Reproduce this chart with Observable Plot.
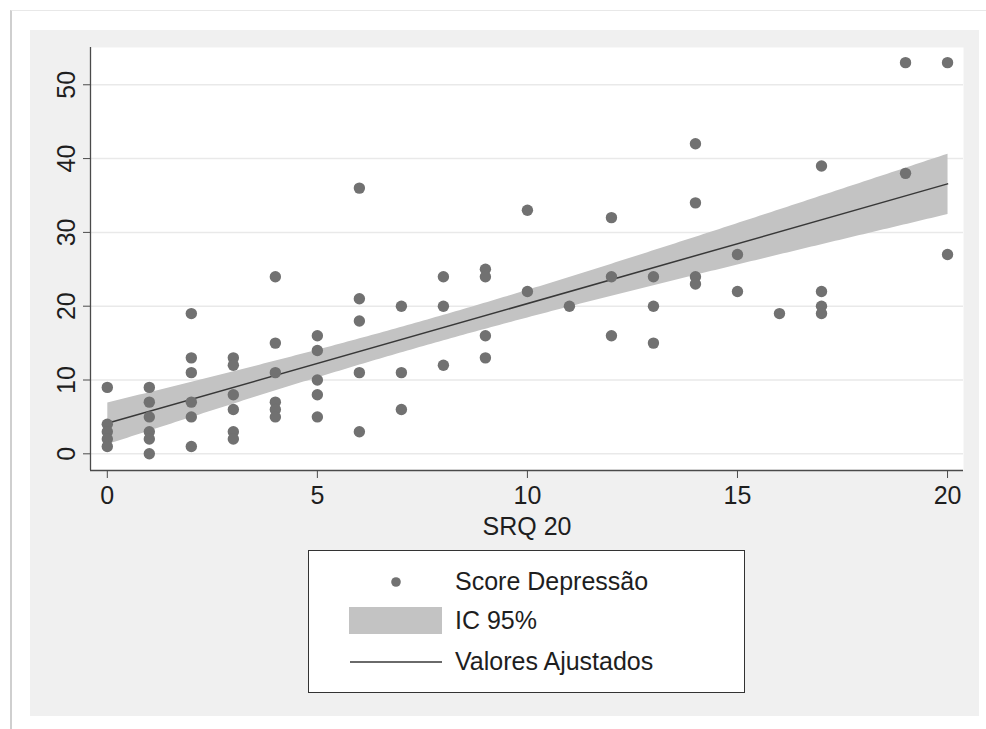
<!DOCTYPE html>
<html>
<head>
<meta charset="utf-8">
<script src="https://cdn.jsdelivr.net/npm/d3@7"></script>
<script src="https://cdn.jsdelivr.net/npm/@observablehq/plot@0.6"></script>
<style>
  html, body { margin: 0; padding: 0; background: #ffffff; }
  #page { position: relative; width: 986px; height: 729px; overflow: hidden; font-family: "Liberation Sans", Arial, sans-serif; }
  #outer { position: absolute; left: 10px; top: 10px; width: 976px; height: 719px; border-left: 2px solid #cfcfcf; border-top: 1px solid #e8e8e8; box-sizing: border-box; }
  #bg { position: absolute; left: 30px; top: 30px; width: 949px; height: 686px; background: #f0f0f0; }
  #chart { position: absolute; left: 0; top: 0; }
  #legend { position: absolute; left: 308px; top: 550px; width: 437px; height: 143px; box-sizing: border-box; border: 1px solid #333; background: #fff; }
  .lab { position: absolute; left: 146px; font-size: 25px; color: #1e1e1e; line-height: 30px; top: 0; white-space: nowrap; }
</style>
</head>
<body>
<div id="page">
  <div id="outer"></div>
  <div id="bg"></div>
  <div id="chart"></div>
  <div id="legend"></div>
</div>
<script>
// SRQ 20 score (x) and depression score (y), one entry per observation
const srq = [
  0,0,0,0,0,
  1,1,1,1,1,1,
  2,2,2,2,2,2,
  3,3,3,3,3,3,
  4,4,4,4,4,4,
  5,5,5,5,5,
  6,6,6,6,6,
  7,7,7,
  8,8,8,
  9,9,9,9,
  10,10,
  11,
  12,12,12,
  13,13,13,
  14,14,14,14,
  15,15,
  16,
  17,17,17,17,
  19,19,
  20,20
];
const depressao = [
  9,4,3,2,1,
  9,7,5,3,2,0,
  19,13,11,7,5,1,
  13,12,8,6,3,2,
  24,15,11,7,6,5,
  16,14,10,8,5,
  36,21,18,11,3,
  20,11,6,
  24,20,12,
  25,24,16,13,
  33,22,
  20,
  32,24,16,
  24,20,15,
  42,34,24,23,
  27,22,
  19,
  39,22,20,19,
  53,38,
  53,27
];
const xTicks = [0, 5, 10, 15, 20];
const yTicks = [0, 10, 20, 30, 40, 50];
const xDomain = [-0.4, 20.38];
const yDomain = [-2.26, 55.05];
const legendLabels = ["Score Depressão", "IC 95%", "Valores Ajustados"];

const data = srq.map((x, i) => ({srq: x, dep: depressao[i]}));

const dotColor = "#717171";
const bandColor = "#c3c3c3";
const lineColor = "#383838";
const axisColor = "#4a4a4a";

const chart = Plot.plot({
  width: 986,
  height: 540,
  marginLeft: 90,
  marginRight: 23,
  marginTop: 47,
  marginBottom: 70,
  style: {background: "transparent", fontFamily: "'Liberation Sans', Arial, sans-serif", fontSize: "25px", color: "#1e1e1e"},
  x: {domain: xDomain},
  y: {domain: yDomain},
  marks: [
    Plot.frame({fill: "white", stroke: null}),
    Plot.gridY(yTicks, {stroke: "#e9e9e9", strokeOpacity: 1, strokeWidth: 1.5}),
    Plot.linearRegressionY(data, {x: "srq", y: "dep", ci: 0.95, fill: bandColor, fillOpacity: 1, stroke: lineColor, strokeWidth: 1.5}),
    Plot.dot(data, {x: "srq", y: "dep", r: 5.7, fill: dotColor, stroke: null}),
    Plot.ruleX([xDomain[0]], {stroke: axisColor, strokeWidth: 1.3}),
    Plot.ruleY([yDomain[0]], {stroke: axisColor, strokeWidth: 1.3}),
    Plot.axisX(xTicks, {tickSize: 8, tickPadding: 8, stroke: axisColor, fill: "#1e1e1e", label: "SRQ 20", labelAnchor: "center", labelOffset: 64, labelArrow: "none"}),
    Plot.axisY(yTicks, {tickSize: 7, tickPadding: 9, tickRotate: -90, stroke: axisColor, fill: "#1e1e1e", label: null})
  ]
});
document.getElementById("chart").appendChild(chart);

// Legend
const legend = document.getElementById("legend");
const ns = "http://www.w3.org/2000/svg";
const sw = document.createElementNS(ns, "svg");
sw.setAttribute("width", 435);
sw.setAttribute("height", 141);
sw.style.position = "absolute";
sw.style.left = "0";
sw.style.top = "0";
const c = document.createElementNS(ns, "circle");
c.setAttribute("cx", 87); c.setAttribute("cy", 31); c.setAttribute("r", 4.8); c.setAttribute("fill", dotColor);
sw.appendChild(c);
const r = document.createElementNS(ns, "rect");
r.setAttribute("x", 40); r.setAttribute("y", 56); r.setAttribute("width", 93); r.setAttribute("height", 27); r.setAttribute("fill", bandColor);
sw.appendChild(r);
const l = document.createElementNS(ns, "line");
l.setAttribute("x1", 41); l.setAttribute("x2", 133); l.setAttribute("y1", 111); l.setAttribute("y2", 111);
l.setAttribute("stroke", lineColor); l.setAttribute("stroke-width", 1.5);
sw.appendChild(l);
legend.appendChild(sw);
const centers = [31, 70, 111];
legendLabels.forEach((t, i) => {
  const d = document.createElement("div");
  d.className = "lab";
  d.textContent = t;
  d.style.top = (centers[i] - 16) + "px";
  legend.appendChild(d);
});
</script>
</body>
</html>
